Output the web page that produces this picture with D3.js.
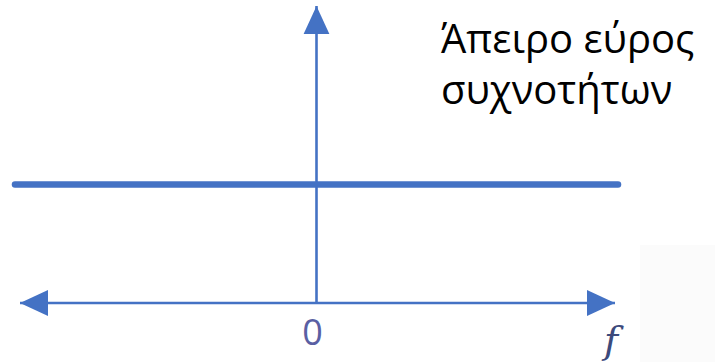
<!DOCTYPE html>
<html>
<head>
<meta charset="utf-8">
<script src="https://cdn.jsdelivr.net/npm/d3@7"></script>
<style>
  html, body { margin: 0; padding: 0; background: #ffffff; }
  svg { display: block; }
</style>
</head>
<body>
<svg id="chart" width="715" height="362"></svg>
<script>
// Flat spectrum: same amplitude at every frequency
const freqDomain = [-1, 1];
const ampDomain = [0, 1];
const spectrumFreq = [-1, 1];
const spectrumAmp = [0.4, 0.4];
const tickValues = [0];
const tickLabels = ["0"];
const axisLabel = "f";
const noteLines = ["Άπειρο εύρος", "συχνοτήτων"];

const svg = d3.select("#chart");
const blue = "#4472c4";

const x = d3.scaleLinear().domain(freqDomain).range([15, 618]);
const y = d3.scaleLinear().domain(ampDomain).range([303, 7]);

// faint paper texture patch in the lower right corner
svg.append("rect")
  .attr("x", 640).attr("y", 245).attr("width", 75).attr("height", 117)
  .attr("fill", "#fbfbfb");

const defs = svg.append("defs");
defs.append("marker")
  .attr("id", "arrow")
  .attr("viewBox", "0 0 10 10")
  .attr("refX", 10).attr("refY", 5)
  .attr("markerUnits", "userSpaceOnUse")
  .attr("markerWidth", 28).attr("markerHeight", 28)
  .attr("orient", "auto-start-reverse")
  .append("path")
  .attr("d", "M0,0.4 L10,5 L0,9.6 Z")
  .attr("fill", blue);

const x0 = x(0), y0 = y(0);

// horizontal frequency axis, arrows at both ends
svg.append("line")
  .attr("x1", x(freqDomain[0]) + 5).attr("x2", x(freqDomain[1]) - 3)
  .attr("y1", y0).attr("y2", y0)
  .attr("stroke", blue).attr("stroke-width", 2.6)
  .attr("marker-start", "url(#arrow)")
  .attr("marker-end", "url(#arrow)");

// vertical amplitude axis
svg.append("line")
  .attr("x1", x0).attr("x2", x0)
  .attr("y1", y0).attr("y2", y(ampDomain[1]) - 1)
  .attr("stroke", blue).attr("stroke-width", 2.6)
  .attr("marker-end", "url(#arrow)");

// constant spectrum line
const line = d3.line()
  .x((d, i) => x(spectrumFreq[i]))
  .y(d => y(d));
svg.append("path")
  .datum(spectrumAmp)
  .attr("d", line)
  .attr("fill", "none")
  .attr("stroke", blue)
  .attr("stroke-width", 6.5)
  .attr("stroke-linecap", "round");

// tick label under the origin
svg.selectAll("text.tick")
  .data(tickValues)
  .enter().append("text")
  .attr("class", "tick")
  .attr("x", d => x(d) - 4)
  .attr("y", y0 + 42)
  .attr("text-anchor", "middle")
  .attr("font-family", "Open Sans, sans-serif")
  .attr("font-size", 36)
  .attr("fill", "#5a5fa3")
  .text((d, i) => tickLabels[i]);

// axis name
svg.append("text")
  .attr("x", x(freqDomain[1]) - 7)
  .attr("y", y0 + 50)
  .attr("text-anchor", "middle")
  .attr("font-family", "DejaVu Serif, serif")
  .attr("font-style", "italic")
  .attr("font-size", 38)
  .attr("fill", "#3c4a7c")
  .text(axisLabel);

// annotation
svg.selectAll("text.note")
  .data(noteLines)
  .enter().append("text")
  .attr("class", "note")
  .attr("x", 441)
  .attr("y", (d, i) => 53 + i * 51)
  .attr("font-family", "Open Sans, sans-serif")
  .attr("font-size", 40)
  .attr("fill", "#000000")
  .text(d => d);
</script>
</body>
</html>
